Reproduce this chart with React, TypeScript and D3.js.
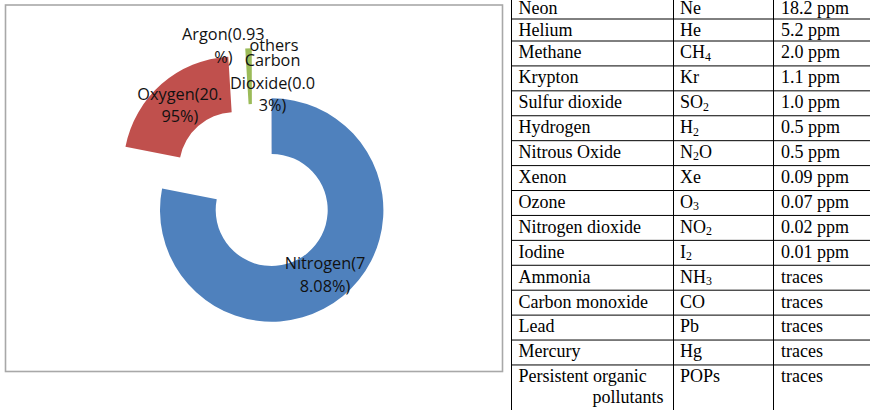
import React from 'react';
import * as d3 from 'd3';

// ---- Donut data ----
const gases = ['Nitrogen', 'Oxygen', 'Argon', 'Carbon Dioxide', 'others'];
const percents = [78.08, 20.95, 0.93, 0.03, 0.01];
const showPercent = [true, true, true, true, false];

// ---- Table data ----
const traceNames = ['Neon', 'Helium', 'Methane', 'Krypton', 'Sulfur dioxide', 'Hydrogen', 'Nitrous Oxide', 'Xenon', 'Ozone', 'Nitrogen dioxide', 'Iodine', 'Ammonia', 'Carbon monoxide', 'Lead', 'Mercury', 'Persistent organic\npollutants'];
const traceFormulas = ['Ne', 'He', 'CH_4', 'Kr', 'SO_2', 'H_2', 'N_2O', 'Xe', 'O_3', 'NO_2', 'I_2', 'NH_3', 'CO', 'Pb', 'Hg', 'POPs'];
const traceAmounts = ['18.2 ppm', '5.2 ppm', '2.0 ppm', '1.1 ppm', '1.0 ppm', '0.5 ppm', '0.5 ppm', '0.09 ppm', '0.07 ppm', '0.02 ppm', '0.01 ppm', 'traces', 'traces', 'traces', 'traces', 'traces'];

// ---- Styles / layout ----
const sliceColors = ['#4F81BD', '#C0504D', '#9BBB59', '#8064A2', '#4BACC6'];
const explodeDist = [0, 55.6, 53.7, 0, 0];
const explodeDirDeg: (number | null)[] = [null, null, -21.5, null, null];
const labelNudge = [[0, 0], [0, 0], [-26, -30.7], [1, -43], [2.3, -81]];

const W = 870, H = 410;
const cx = 271.7, cy = 210, outerR = 111.7, innerR = 56;
const labelFont = "16.3px 'Open Sans'";
const labelLH = 22.5, capH = 11.6, wrapW = 88;

const tableX = [511.5, 673.5, 773.5, 870];
const firstRowTop = -3;
const rowHeights = [22, 22, ...Array(13).fill(24.92), 60];
const tableFontSize = 18;

function measure(t: string) {
  const c = document.createElement('canvas').getContext('2d');
  if (!c) return t.length * 8.3;
  c.font = labelFont;
  return c.measureText(t).width;
}

function wrapLabel(text: string): string[] {
  const words = text.split(' ');
  const lines: string[] = [];
  let cur = '';
  for (const w of words) {
    const cand = cur ? cur + ' ' + w : w;
    if (measure(cand) <= wrapW) { cur = cand; continue; }
    if (cur) { lines.push(cur); cur = ''; }
    let rest = w;
    while (measure(rest) > wrapW) {
      let k = rest.length;
      while (k > 1 && measure(rest.slice(0, k)) > wrapW) k--;
      lines.push(rest.slice(0, k));
      rest = rest.slice(k);
    }
    cur = rest;
  }
  if (cur) lines.push(cur);
  return lines;
}

function Formula({ f, x, y }: { f: string; x: number; y: number }) {
  const parts: { t: string; sub: boolean }[] = [];
  let i = 0;
  while (i < f.length) {
    if (f[i] === '_') { parts.push({ t: f[i + 1], sub: true }); i += 2; }
    else {
      let j = i; while (j < f.length && f[j] !== '_') j++;
      parts.push({ t: f.slice(i, j), sub: false }); i = j;
    }
  }
  return (
    <text x={x} y={y}>
      {parts.map((p, k) => p.sub
        ? <tspan key={k} fontSize={tableFontSize * 0.66} dy={2.5}>{p.t}</tspan>
        : <tspan key={k} dy={k > 0 && parts[k - 1].sub ? -2.5 : 0}>{p.t}</tspan>)}
    </text>
  );
}

export default function App() {
  const pie = d3.pie<number>().sort(null).value(d => d).startAngle(0).endAngle(2 * Math.PI);
  const arcs = pie(percents);
  const arcGen = d3.arc<d3.PieArcDatum<number>>().innerRadius(innerR).outerRadius(outerR);

  const rowTops: number[] = [];
  let acc = firstRowTop;
  rowHeights.forEach(h => { rowTops.push(acc); acc += h; });

  return (
    <svg width={W} height={H} style={{ position: 'absolute', left: 0, top: 0, background: '#fff' }}>
      <rect x={0} y={0} width={W} height={H} fill="#fff" />
      <rect x={5.5} y={5} width={497} height={366.5} fill="none" stroke="#a8a8a8" strokeWidth={1.6} />
      <g>
        {arcs.map((a, i) => {
          const mid = (a.startAngle + a.endAngle) / 2;
          const dir = explodeDirDeg[i] != null ? (explodeDirDeg[i] as number) * Math.PI / 180 : mid;
          const ox = cx + explodeDist[i] * Math.sin(dir);
          const oy = cy - explodeDist[i] * Math.cos(dir);
          return (
            <path key={i} d={arcGen(a) || ''} transform={`translate(${ox},${oy})`} fill={sliceColors[i]} />
          );
        })}
      </g>
      <g fontFamily="'Open Sans'" fontSize={16.3} fill="#111" textAnchor="middle">
        {arcs.map((a, i) => {
          const mid = (a.startAngle + a.endAngle) / 2;
          const dir = explodeDirDeg[i] != null ? (explodeDirDeg[i] as number) * Math.PI / 180 : mid;
          const ox = cx + explodeDist[i] * Math.sin(dir);
          const oy = cy - explodeDist[i] * Math.cos(dir);
          const [c0, c1] = arcGen.centroid(a);
          const lx = ox + c0 + labelNudge[i][0];
          const ly = oy + c1 + labelNudge[i][1];
          const txt = showPercent[i] ? `${gases[i]}(${percents[i]}%)` : gases[i];
          const lines = wrapLabel(txt);
          const y0 = ly + (capH - (lines.length - 1) * labelLH) / 2;
          return (
            <text key={i}>
              {lines.map((l, k) => <tspan key={k} x={lx} y={y0 + k * labelLH}>{l}</tspan>)}
            </text>
          );
        })}
      </g>
      <g fontFamily="'Liberation Serif', 'Times New Roman', serif" fontSize={tableFontSize} fill="#000">
        {tableX.slice(0, 3).map((x, i) => (
          <line key={'v' + i} x1={x} x2={x} y1={0} y2={H} stroke="#000" strokeWidth={1} />
        ))}
        {rowTops.slice(1).map((y, i) => (
          <line key={'h' + i} x1={tableX[0]} x2={W} y1={y} y2={y} stroke="#000" strokeWidth={1} />
        ))}
        {traceNames.map((n, i) => {
          const base = rowTops[i] + 17.3;
          const nameLines = n.split('\n');
          return (
            <g key={'r' + i}>
              {nameLines.map((l, k) => (
                <text key={k} x={k === 0 ? tableX[0] + 7 : tableX[1] - 10} y={base + k * 21}
                  textAnchor={k === 0 ? 'start' : 'end'}>{l}</text>
              ))}
              <Formula f={traceFormulas[i]} x={tableX[1] + 6.5} y={base} />
              <text x={tableX[2] + 7.5} y={base}>{traceAmounts[i]}</text>
            </g>
          );
        })}
      </g>
    </svg>
  );
}
